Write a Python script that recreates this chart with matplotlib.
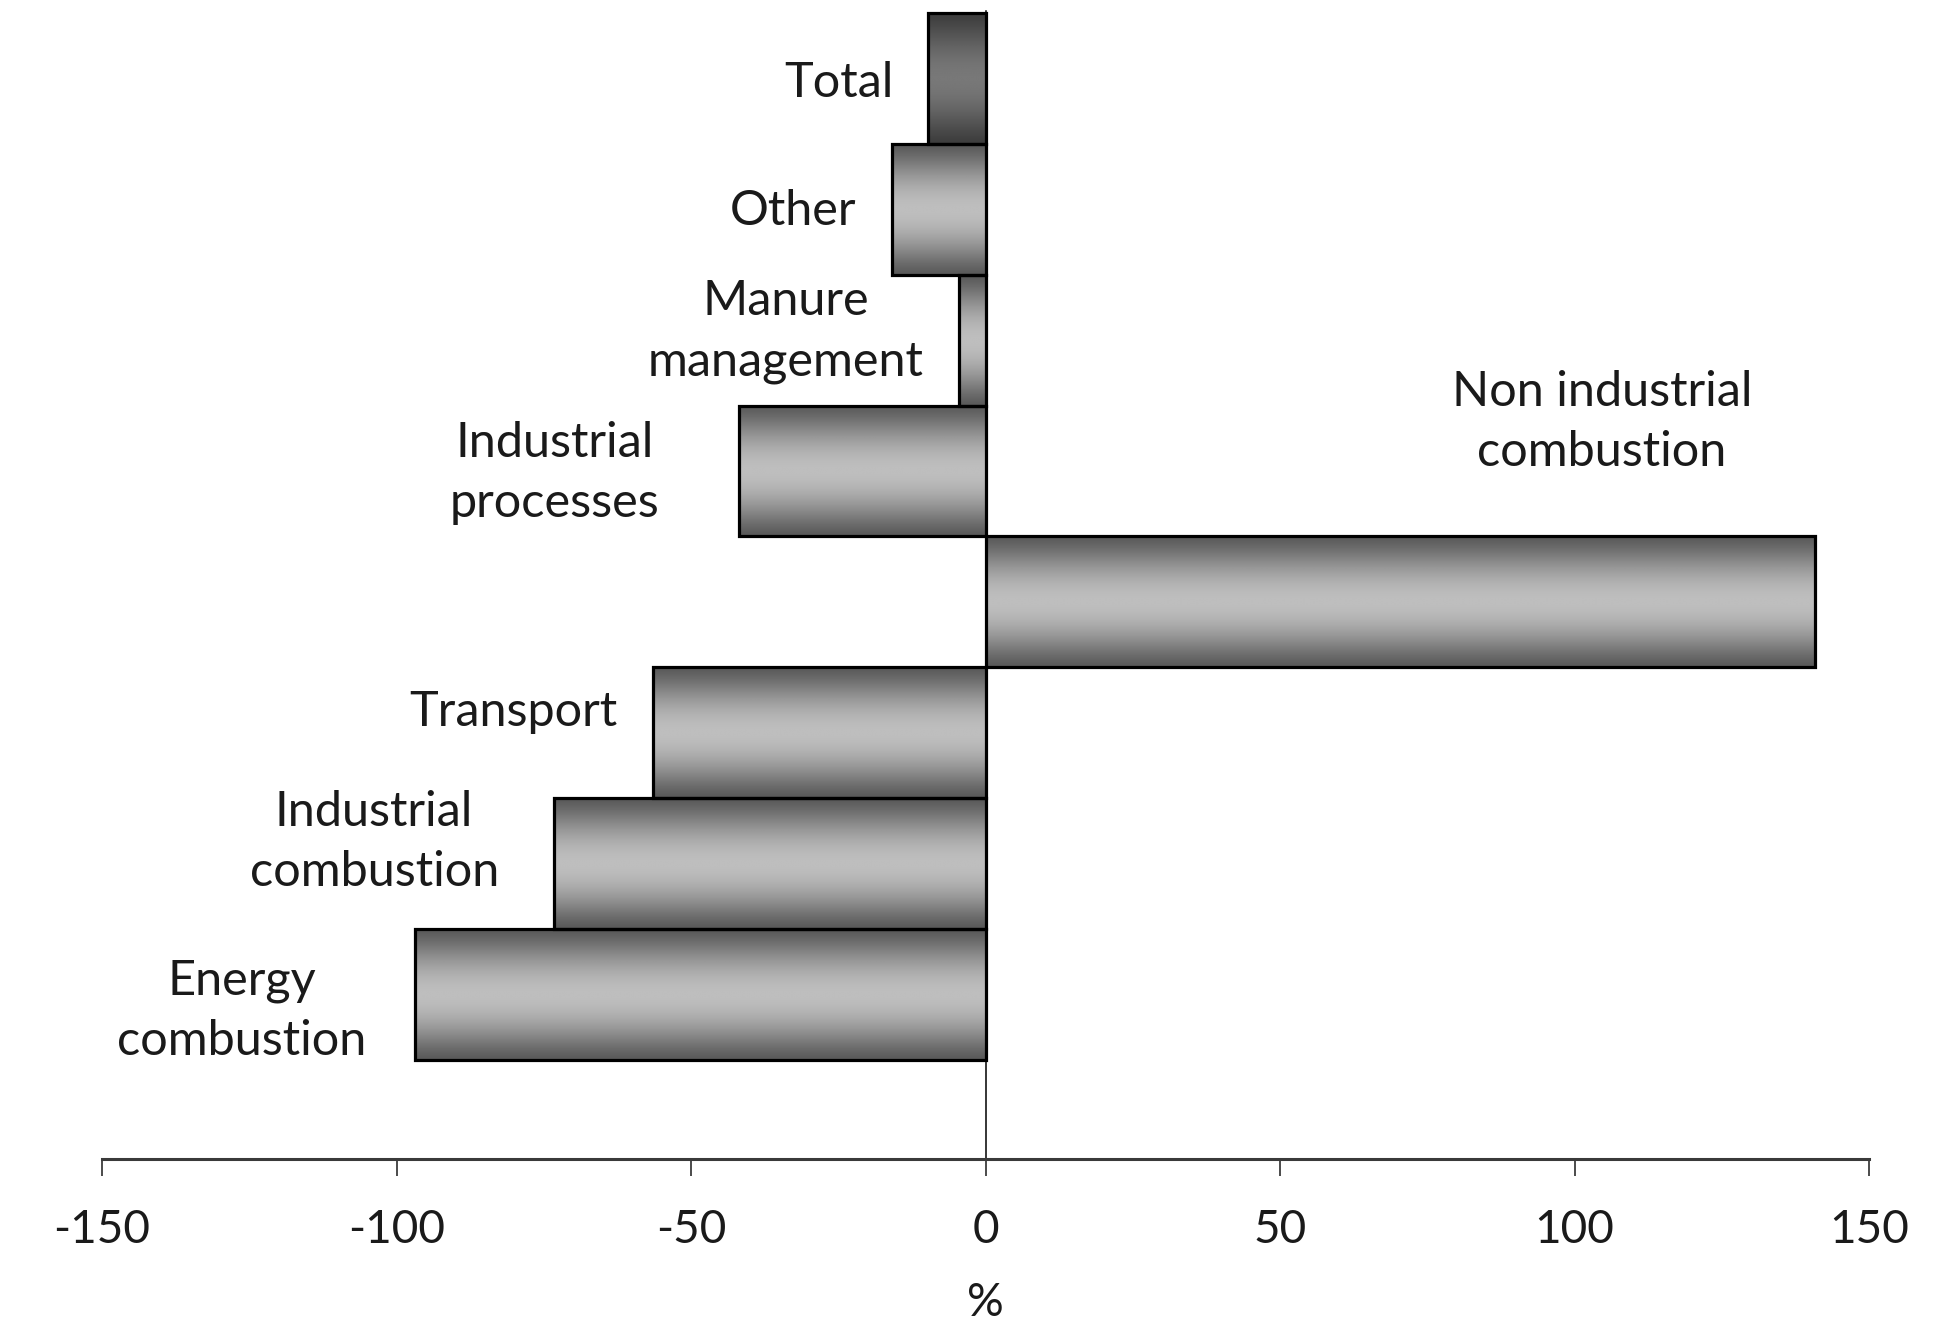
import matplotlib.pyplot as plt
import numpy as np
from matplotlib.patches import Rectangle

plt.rcParams["font.family"] = ["Lato", "DejaVu Sans"]

# Change by source sector, bottom to top
sectors = [
    "Energy\ncombustion",
    "Industrial\ncombustion",
    "Transport",
    "Non industrial\ncombustion",
    "Industrial\nprocesses",
    "Manure\nmanagement",
    "Other",
    "Total",
]
change_pct = [-96.8, -73.3, -56.5, 140.8, -41.8, -4.5, -15.8, -9.8]
x_ticks = [-150, -100, -50, 0, 50, 100, 150]

# label offsets from the bar end, in pixels (dx, dy, ha)
LABEL_OFFSETS = [
    (-49, -17, "right"),
    (-55, 21, "right"),
    (-35, 21, "right"),
    (-213, 180, "center"),
    (-80, -2, "right"),
    (-35, 9, "right"),
    (-36, -2, "right"),
    (-34, -4, "right"),
]


def bar_gradient(dark, light, n=256):
    t = np.linspace(0.0, 1.0, n)
    w = np.sin(np.pi * t) ** 1.3
    g = dark + (light - dark) * w
    return np.repeat(g[:, None], 2, axis=1)


fig = plt.figure(figsize=(19.34, 13.22), dpi=100, facecolor="white")
ax = fig.add_axes([102 / 1934, 0.1233, 1767 / 1934, 0.8687])

ypos = np.arange(len(sectors))
for i, (y, v) in enumerate(zip(ypos, change_pct)):
    x0, x1 = min(0.0, v), max(0.0, v)
    if i == len(sectors) - 1:
        grad = bar_gradient(0.24, 0.47)
    else:
        grad = bar_gradient(0.35, 0.745)
    rect = Rectangle((x0, y - 0.5), x1 - x0, 1.0, facecolor="none",
                     edgecolor="black", linewidth=2.3, zorder=3)
    ax.add_patch(rect)
    img = ax.imshow(grad, cmap="gray", vmin=0, vmax=1, aspect="auto",
                    extent=(x0, x1, y + 0.5, y - 0.5), origin="upper",
                    interpolation="bilinear", zorder=2)
    img.set_clip_path(rect)

for y, v, label, (dx, dy, ha) in zip(ypos, change_pct, sectors,
                                      LABEL_OFFSETS):
    ax.annotate(label, xy=(v, y), xytext=(dx, dy),
                textcoords="offset pixels", ha=ha, va="center",
                multialignment="center", fontsize=35, color="#1a1a1a",
                linespacing=1.45)

ax.set_xlim(-150, 150)
ax.set_ylim(-1.26, 7.52)
ax.set_xticks(x_ticks)
ax.set_xticklabels([str(t) for t in x_ticks])
ax.set_yticks([])

ax.spines["top"].set_visible(False)
ax.spines["right"].set_visible(False)
ax.spines["left"].set_position(("data", 0))
ax.spines["left"].set_linewidth(1.1)
ax.spines["bottom"].set_linewidth(2.2)
ax.spines["bottom"].set_color("#3a3a3a")
ax.spines["bottom"].set_zorder(4)
ax.spines["left"].set_zorder(1)
ax.tick_params(axis="x", direction="out", length=12, width=1.1,
               labelsize=33, pad=24, colors="#1a1a1a")
ax.set_xlabel("%", fontsize=33, labelpad=22, color="#1a1a1a")
ax.set_facecolor("white")

fig.savefig("out.png", dpi=100, facecolor="white")
